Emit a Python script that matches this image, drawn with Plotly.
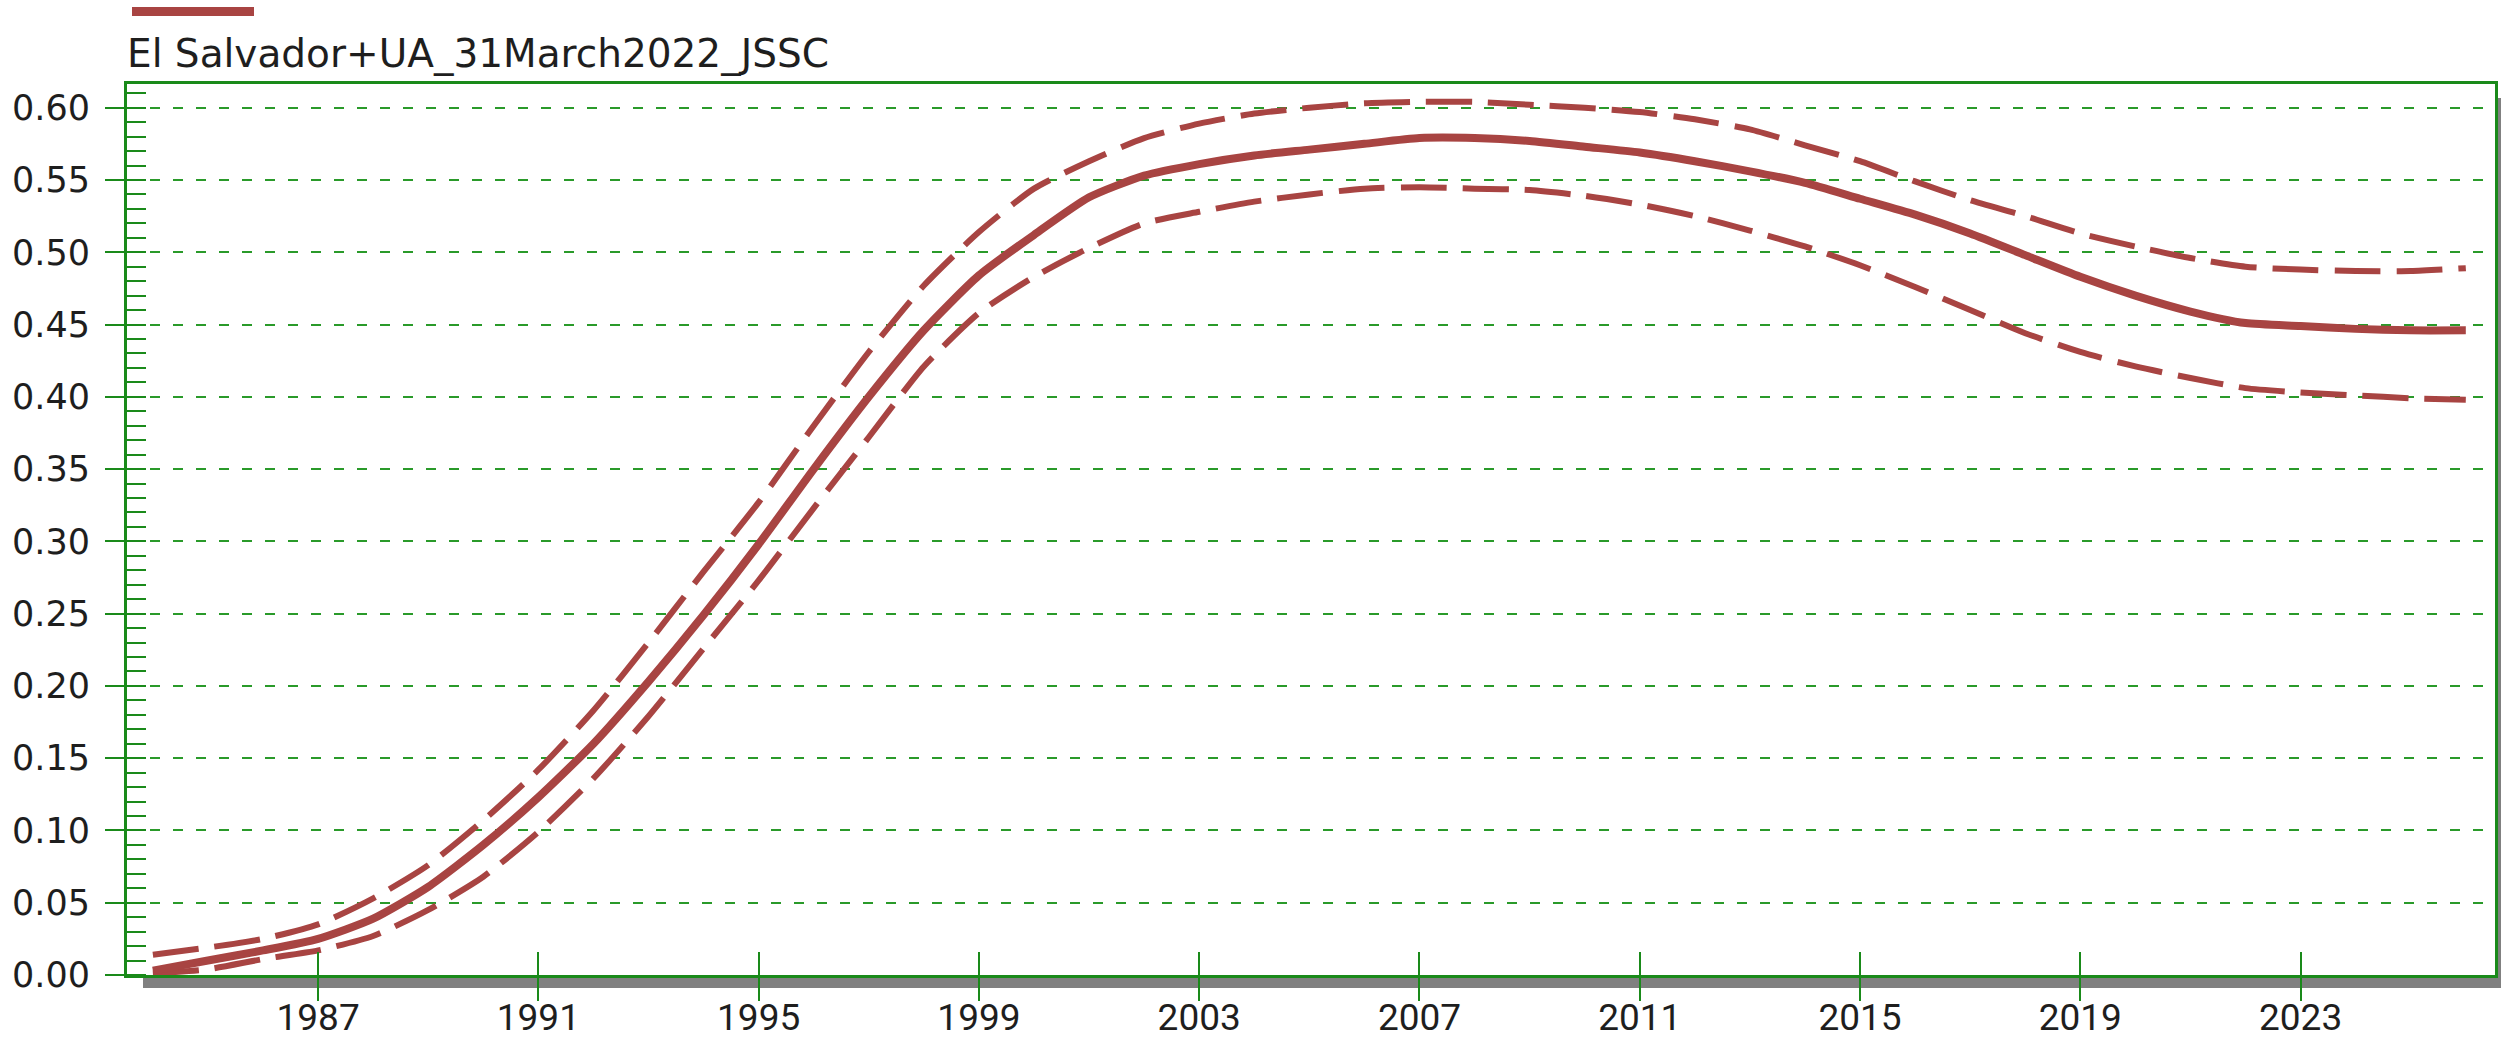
import plotly.graph_objects as go

years = list(range(1984, 2027))
central = [0.003, 0.010, 0.017, 0.025, 0.039, 0.061, 0.090, 0.123, 0.160, 0.203,
           0.249, 0.298, 0.350, 0.400, 0.446, 0.484, 0.512, 0.538, 0.553, 0.561,
           0.567, 0.571, 0.575, 0.579, 0.579, 0.577, 0.573, 0.569, 0.563, 0.556,
           0.548, 0.537, 0.526, 0.513, 0.498, 0.483, 0.470, 0.459, 0.451, 0.449,
           0.447, 0.446, 0.446]
upper = [0.014, 0.019, 0.025, 0.035, 0.053, 0.076, 0.107, 0.142, 0.183, 0.230,
         0.279, 0.327, 0.380, 0.431, 0.477, 0.514, 0.544, 0.563, 0.579, 0.589,
         0.596, 0.600, 0.603, 0.604, 0.604, 0.602, 0.600, 0.597, 0.592, 0.585,
         0.574, 0.563, 0.549, 0.536, 0.525, 0.513, 0.504, 0.496, 0.490, 0.488,
         0.487, 0.487, 0.489]
lower = [0.001, 0.004, 0.011, 0.017, 0.027, 0.045, 0.068, 0.099, 0.136, 0.179,
         0.226, 0.273, 0.323, 0.372, 0.421, 0.458, 0.483, 0.503, 0.520, 0.528,
         0.535, 0.540, 0.544, 0.545, 0.544, 0.543, 0.539, 0.533, 0.525, 0.515,
         0.504, 0.491, 0.476, 0.460, 0.444, 0.431, 0.421, 0.413, 0.406, 0.403,
         0.401, 0.399, 0.398]
series_name = "El Salvador+UA_31March2022_JSSC"
x_ticks = [1987, 1991, 1995, 1999, 2003, 2007, 2011, 2015, 2019, 2023]
y_ticks = [round(i * 0.05, 2) for i in range(13)]

RED = "#a84442"
GRID = "#2a9a2a"
AXIS = "#1a8a1a"
TXT = "#1e1e1e"

W, H = 2501, 1039
ML, MR, MT, MB = 127, 6, 84, 64
PW, PH = W - ML - MR, H - MT - MB
XR = [1983.53, 2026.53]
YR = [0, 0.6164]


def px(xp):
    return (xp - ML) / PW


def py(yp):
    return (H - MB - yp) / PH


fig = go.Figure()
for ys, dash, wdt in [(upper, "46px,16px", 6), (lower, "46px,16px", 6), (central, "solid", 8)]:
    fig.add_trace(go.Scatter(x=years, y=ys, mode="lines", showlegend=False,
                             line=dict(color=RED, width=wdt, dash=dash, shape="spline", smoothing=0.6),
                             hoverinfo="skip"))
# invisible trace to carry the overlay axis with inner ticks
fig.add_trace(go.Scatter(x=years, y=central, mode="lines", xaxis="x2", showlegend=False,
                         line=dict(width=0), opacity=0, hoverinfo="skip"))

fig.update_layout(
    template="none",
    width=W, height=H,
    margin=dict(l=ML, r=MR, t=MT, b=MB, pad=0),
    paper_bgcolor="white", plot_bgcolor="white",
    font=dict(family="Roboto", size=36, color=TXT),
    xaxis=dict(range=XR, tickvals=x_ticks, ticktext=[str(v) for v in x_ticks],
               automargin=False,
               showgrid=False, zeroline=False, showline=True, linecolor=AXIS, linewidth=3,
               mirror=True, ticks="outside", ticklen=23, tickwidth=2, tickcolor=AXIS,
               ticklabelstandoff=-15,
               tickfont=dict(family="Roboto", size=37, color=TXT)),
    xaxis2=dict(range=XR, overlaying="x", side="bottom", tickvals=x_ticks,
                automargin=False,
                showticklabels=False, showgrid=False, zeroline=False, showline=False,
                ticks="inside", ticklen=23, tickwidth=2, tickcolor=AXIS),
    yaxis=dict(range=YR, tickvals=y_ticks, ticktext=[f"{v:.2f}" for v in y_ticks],
               automargin=False,
               showgrid=True, gridcolor=GRID, gridwidth=2, griddash="10px,13px",
               zeroline=False, showline=True, linecolor=AXIS, linewidth=3, mirror=True,
               ticks="outside", ticklen=19, tickwidth=2, tickcolor=AXIS,
               ticklabelstandoff=8,
               tickfont=dict(family="DejaVu Sans", size=35, color=TXT),
               minor=dict(dtick=0.01, tick0=0, ticks="inside", ticklen=19, tickwidth=2,
                          tickcolor=AXIS, showgrid=False)),
    shapes=[
        dict(type="rect", xref="paper", yref="paper", x0=px(143), x1=px(W + 5),
             y0=py(988), y1=py(976), fillcolor="#808080", line=dict(width=0), layer="below"),
        dict(type="rect", xref="paper", yref="paper", x0=px(2497), x1=px(W + 5),
             y0=py(988), y1=py(98), fillcolor="#808080", line=dict(width=0), layer="below"),
        dict(type="line", xref="paper", yref="paper", x0=px(132), x1=px(254),
             y0=py(11.5), y1=py(11.5), line=dict(color=RED, width=9)),
    ],
    annotations=[
        dict(text=series_name, xref="paper", yref="paper", x=px(125), y=py(54),
             xanchor="left", yanchor="middle", showarrow=False,
             font=dict(family="DejaVu Sans", size=39, color=TXT)),
    ],
)

fig.write_html("out.html", config={"displayModeBar": False},
               post_script="document.body.style.margin='0px';document.body.style.overflow='hidden';")
